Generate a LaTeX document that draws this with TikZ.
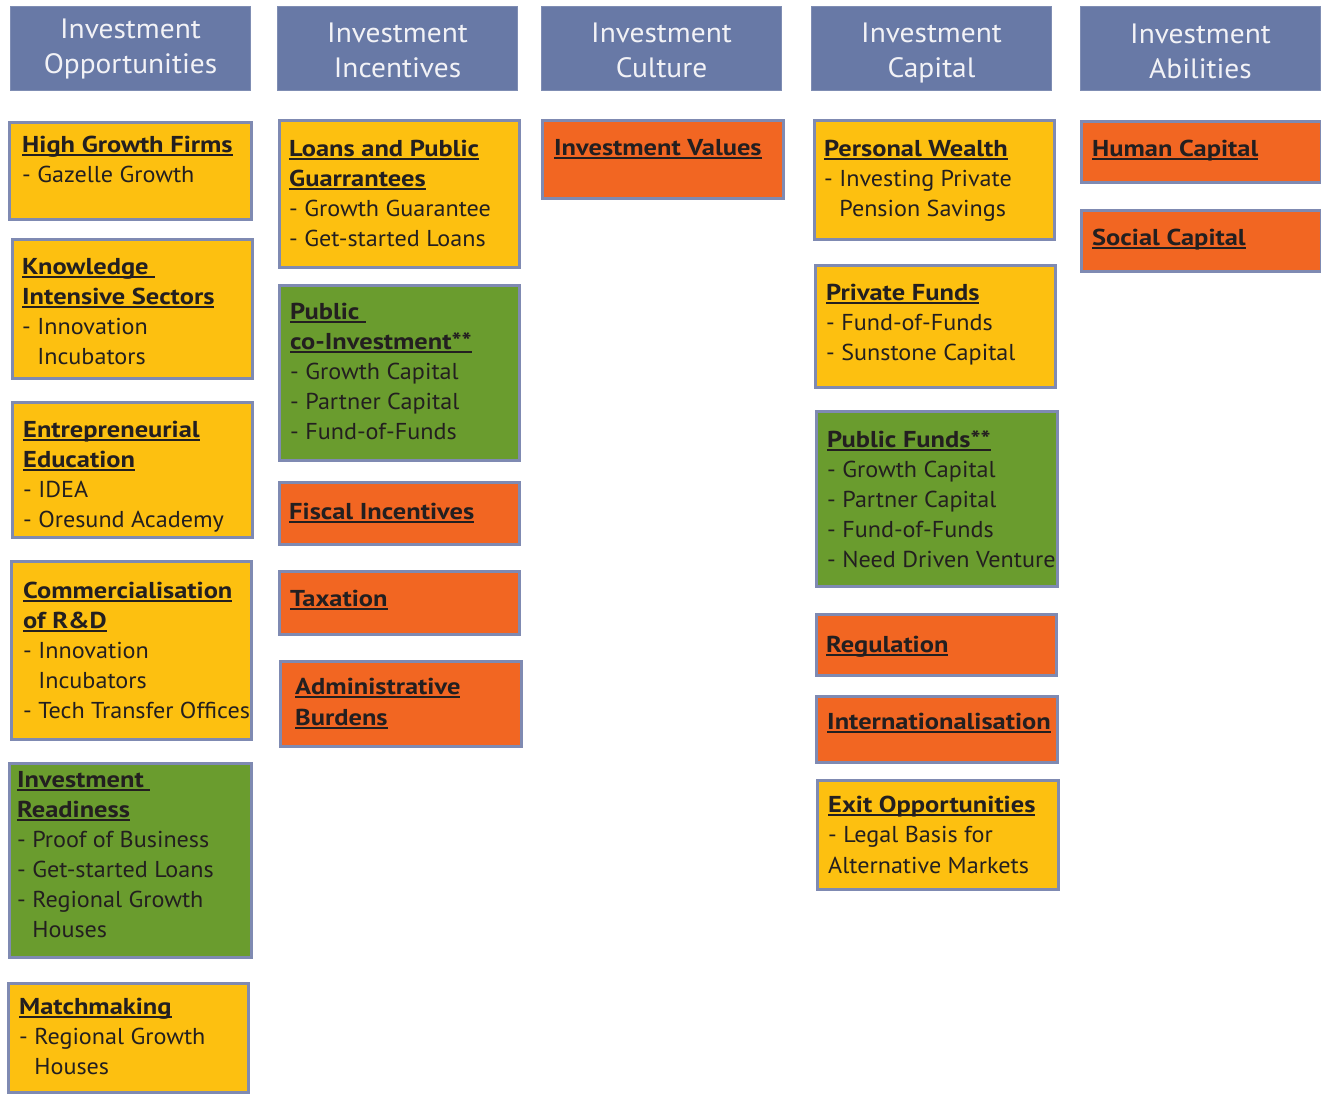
\documentclass[tikz,border=0pt]{standalone}
\usepackage{fontspec}
\setmainfont{PT Sans}[FakeStretch=1.05, BoldFeatures={FakeStretch=1.15}]
\definecolor{yel}{RGB}{253,192,16}
\definecolor{grn}{RGB}{106,156,46}
\definecolor{org}{RGB}{242,102,34}
\definecolor{hdr}{RGB}{104,121,166}
\definecolor{brd}{RGB}{127,138,178}
\definecolor{txtc}{RGB}{35,31,32}
\definecolor{htxt}{RGB}{242,242,246}
\newcommand\hd[1]{\setbox0\hbox{\bfseries\rule{0pt}{17pt}#1}\rlap{\rule[-3.5pt]{\wd0}{1.8pt}}\box0}
\newcommand\ind{\phantom{- }}
\tikzset{
  cell/.style={draw=brd, line width=2.6pt, inner sep=0pt, rectangle, anchor=north west},
  hbox/.style={draw=hdr!85!white, fill=hdr, line width=1pt, inner sep=0pt, rectangle, anchor=north west},
  txt/.style={font=\fontsize{23}{30}\selectfont, text=txtc, align=left, inner sep=0pt, anchor=north west},
  htx/.style={font=\fontsize{28}{35}\selectfont, text=htxt, align=center, inner sep=0pt},
}
\newcommand\cell[9]{%
  \node[cell, fill=#2, minimum width=#5pt, minimum height=#6pt] (#1) at (#3,#4) {};
  \node[txt] (#1-t) at ([xshift=#7pt, yshift=-#8pt]#1.north west) {#9};}
\newcommand\head[5]{%
  \node[hbox, minimum width=240pt, minimum height=84pt] (#1) at (#2,#3) {};
  \node[htx] (#1-t) at ([yshift=-#5pt]#1.center) {#4};}
\begin{document}
\begin{tikzpicture}[x=1pt,y=-1pt]
\useasboundingbox[fill=white] (0,0) rectangle (1321,1093);
% headers
\head{h1}{10}{6}{Investment\\Opportunities}{0}
\head{h2}{277}{6}{Investment\\Incentives}{2}
\head{h3}{541}{6}{Investment\\Culture}{1.5}
\head{h4}{811}{6}{Investment\\Capital}{4}
\head{h5}{1080}{6}{Investment\\Abilities}{3}
% column 1
\cell{hgf}{yel}{8}{121}{242}{97}{14}{14}{\hd{High Growth Firms}\\- Gazelle Growth}
\cell{kis}{yel}{11}{238}{240}{139}{11}{19}{\hd{Knowledge\ }\\\hd{Intensive Sectors}\\- Innovation\\\ind Incubators}
\cell{ee}{yel}{11}{401}{240}{135}{12}{19}{\hd{Entrepreneurial}\\\hd{Education}\\- IDEA\\- Oresund Academy}
\cell{crd}{yel}{10}{560}{240}{178}{13}{21}{\hd{Commercialisation}\\\hd{of R\&D}\\- Innovation\\\ind Incubators\\- Tech Transfer Offices}
\cell{ir}{grn}{8}{762}{242}{194}{9}{8}{\hd{Investment\ }\\\hd{Readiness}\\- Proof of Business\\- Get-started Loans\\- Regional Growth\\\ind Houses}
\cell{mm}{yel}{7}{982}{240}{109}{12}{15}{\hd{Matchmaking}\\- Regional Growth\\\ind Houses}
% column 2
\cell{lpg}{yel}{278}{119}{240}{147}{11}{20}{\hd{Loans and Public}\\\hd{Guarrantees}\\- Growth Guarantee\\- Get-started Loans}
\cell{pci}{grn}{278}{284}{240}{175}{12}{18}{\hd{Public\ }\\\hd{co-Investment**}\\- Growth Capital\\- Partner Capital\\- Fund-of-Funds}
\cell{fi}{org}{278}{481}{240}{62}{11}{21}{\hd{Fiscal Incentives}}
\cell{tax}{org}{278}{570}{240}{63}{12}{19}{\hd{Taxation}}
\cell{ab}{org}{279}{660}{241}{85}{16}{17}{\hd{Administrative}\\[1pt]\hd{Burdens}}
% column 3
\cell{iv}{org}{541}{119}{241}{78}{13}{19}{\hd{Investment Values}}
% column 4
\cell{pw}{yel}{813}{119}{240}{119}{11}{20}{\hd{Personal Wealth}\\- Investing Private\\\ind Pension Savings}
\cell{pf}{yel}{814}{264}{240}{122}{12}{19}{\hd{Private Funds}\\- Fund-of-Funds\\- Sunstone Capital}
\cell{pubf}{grn}{815}{410}{241}{175}{12}{20}{\hd{Public Funds**}\\- Growth Capital\\- Partner Capital\\- Fund-of-Funds\\- Need Driven Venture}
\cell{reg}{org}{815}{613}{240}{61}{11}{22}{\hd{Regulation}}
\cell{intl}{org}{815}{695}{241}{66}{12}{17}{\hd{Internationalisation}}
\cell{exit}{yel}{816}{779}{241}{109}{12}{16}{\hd{Exit Opportunities}\\- Legal Basis for\\[1pt]Alternative Markets}
% column 5
\cell{hc}{org}{1080}{120}{240}{61}{12}{19}{\hd{Human Capital}}
\cell{sc}{org}{1080}{209}{240}{61}{12}{19}{\hd{Social Capital}}
\end{tikzpicture}
\end{document}
